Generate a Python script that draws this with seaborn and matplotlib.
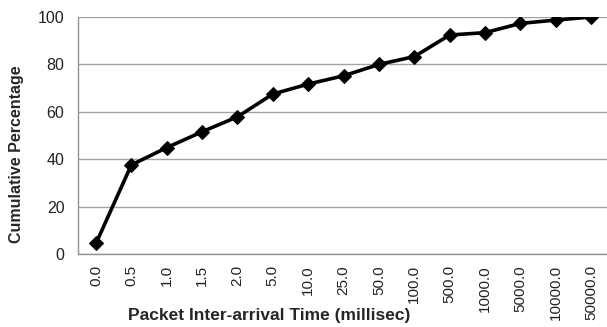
import numpy as np
import pandas as pd
import matplotlib
matplotlib.use('Agg')
import matplotlib.pyplot as plt
import seaborn as sns

# packet inter-arrival time categories (millisec) and cumulative percentage
times = ['0.0', '0.5', '1.0', '1.5', '2.0', '5.0', '10.0', '25.0', '50.0',
         '100.0', '500.0', '1000.0', '5000.0', '10000.0', '50000.0']
cum_pct = [4.5, 37.6, 44.9, 51.6, 57.9, 67.5, 71.7, 75.2, 80.0,
           83.3, 92.4, 93.4, 97.3, 98.7, 100.0]

sns.set_style('white')
plt.rcParams['font.family'] = ['Liberation Sans', 'DejaVu Sans']

df = pd.DataFrame({'t': times, 'pct': cum_pct})
df['x'] = np.arange(len(df))

fig = plt.figure(figsize=(6.07, 3.27), dpi=100)
ax = fig.add_axes([0.129, 0.223, 0.874, 0.725])

sns.lineplot(data=df, x='x', y='pct', color='black', linewidth=2.6,
             marker='D', markersize=7.5, markeredgecolor='black', ax=ax)

ax.set_xlim(-0.5, len(times) - 0.5)
ax.set_ylim(0, 100)
ax.set_yticks([0, 20, 40, 60, 80, 100])
ax.yaxis.grid(True, color='#9aa7aa', linewidth=1.0)
ax.set_axisbelow(True)

ax.set_xticks(df['x'])
ax.set_xticklabels(times, rotation=90, fontsize=11)
ax.set_xticks(np.arange(-0.5, len(times)), minor=True)
ax.tick_params(axis='x', which='major', length=0, pad=8)
ax.tick_params(axis='x', which='minor', length=4, color='#8a9598', width=1, direction='out')
ax.tick_params(axis='y', which='major', length=4, color='#8a9598', labelsize=11.5, pad=6)
for lab in ax.get_yticklabels() + ax.get_xticklabels():
    lab.set_color('#222222')

for s in ['top', 'right']:
    ax.spines[s].set_visible(False)
for s in ['left', 'bottom']:
    ax.spines[s].set_color('#8a9598')
    ax.spines[s].set_linewidth(1.0)

ax.set_xlabel('Packet Inter-arrival Time (millisec)', fontsize=12.5, fontweight='bold',
              va='center')
ax.xaxis.set_label_coords(0.36, -0.258)
ax.set_ylabel('Cumulative Percentage', fontsize=11.5, fontweight='bold', va='center')
ax.yaxis.set_label_coords(-0.116, 0.42)

fig.savefig('out.png', dpi=100)
